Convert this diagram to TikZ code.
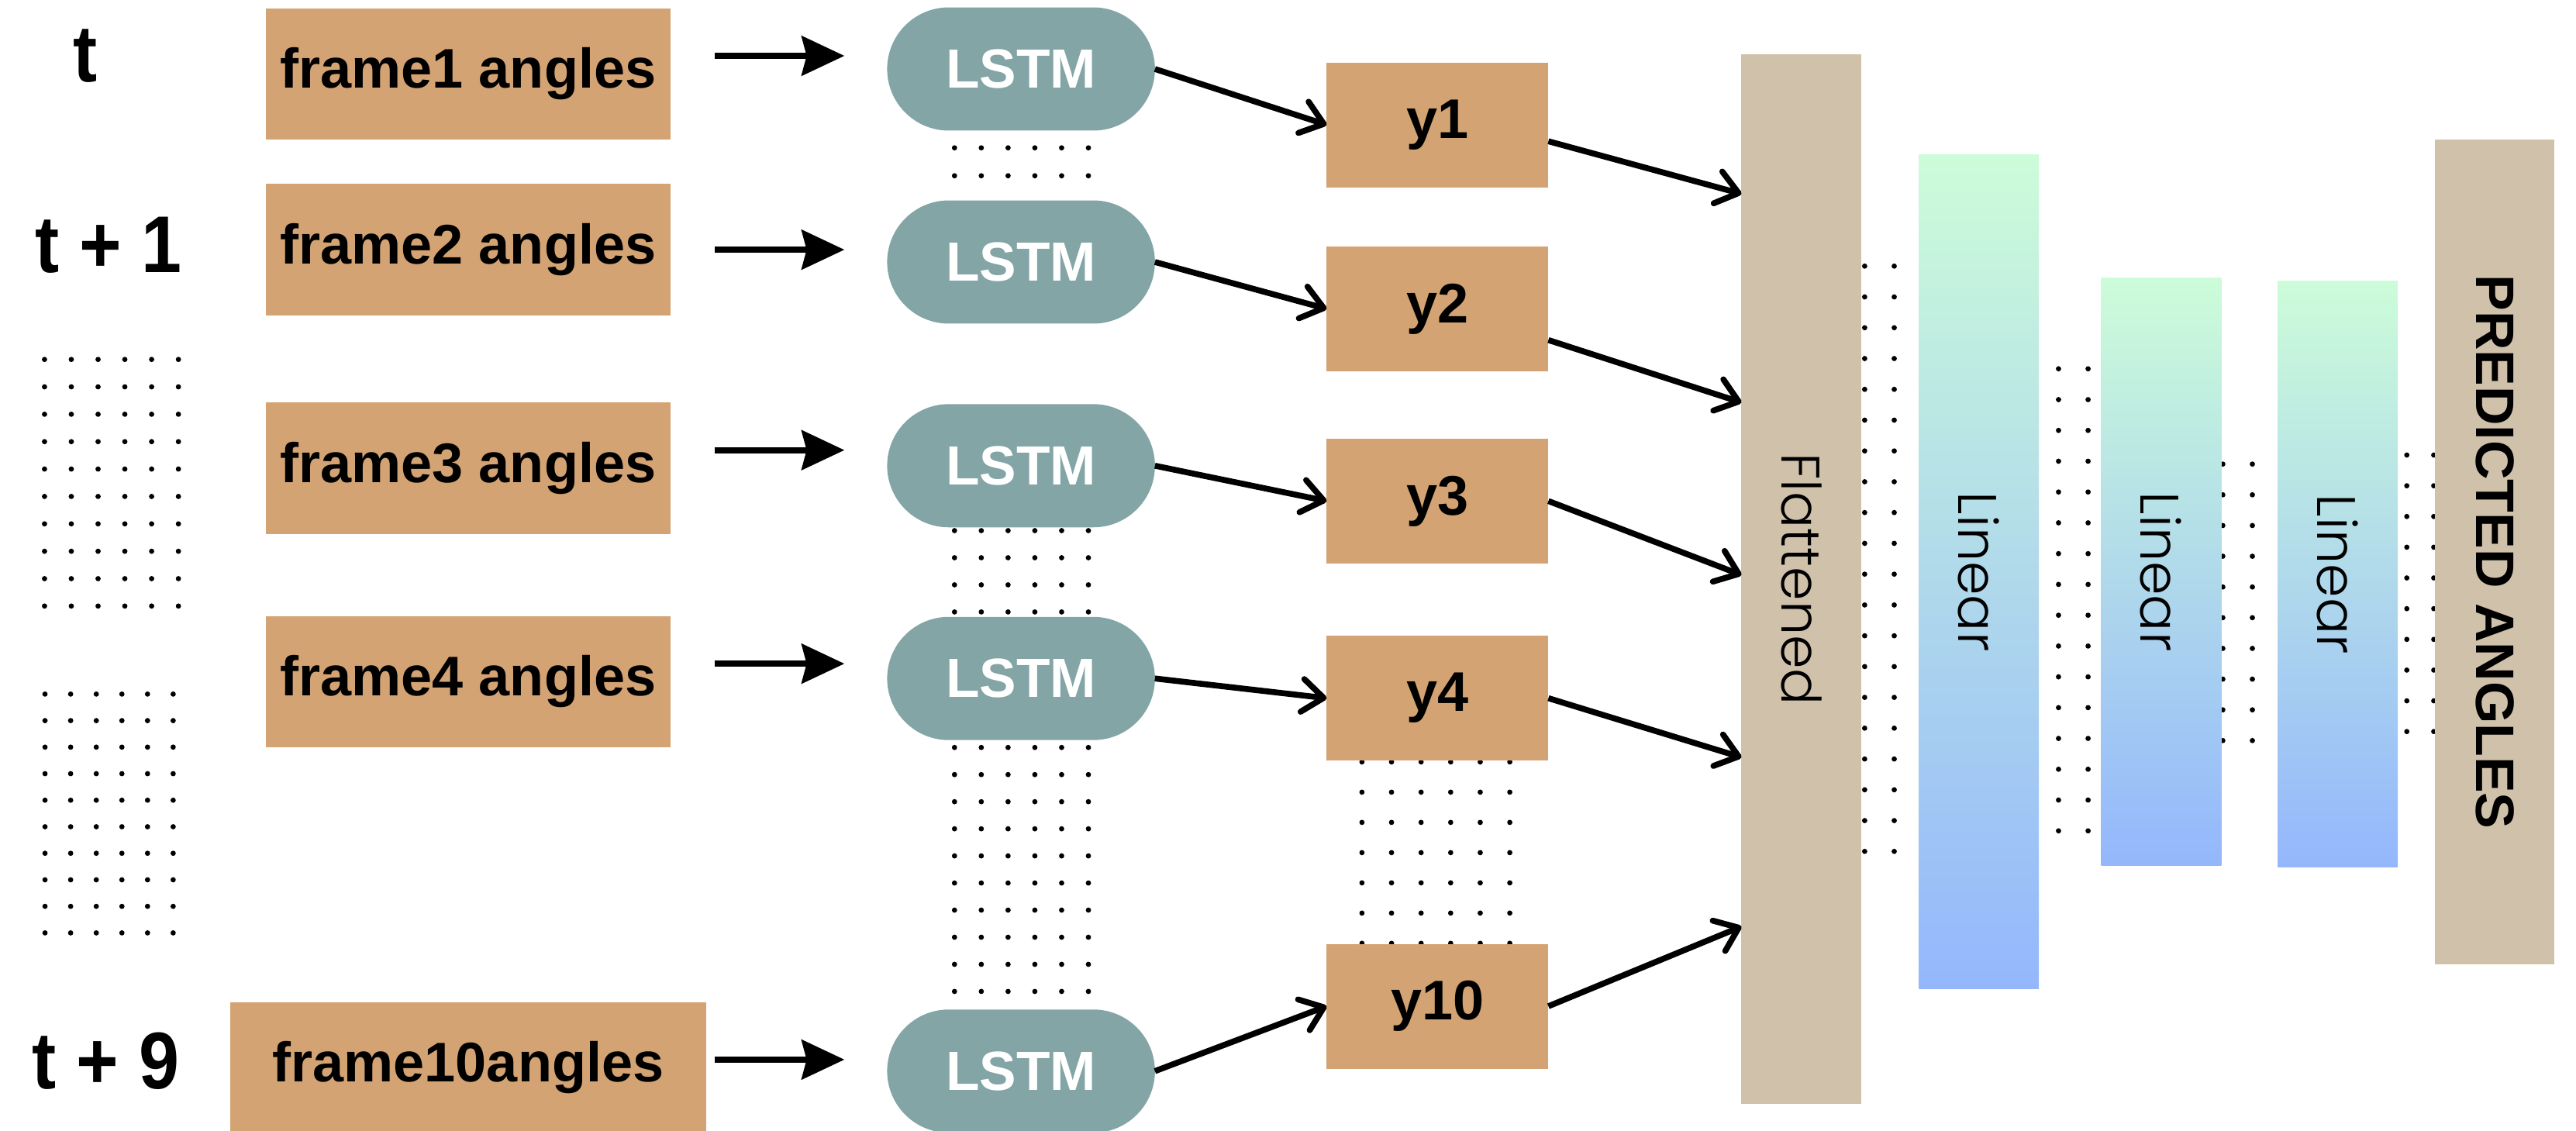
\documentclass[tikz,border=0pt]{standalone}
\usepackage{fontspec}
\usepackage{graphicx}
\setmainfont{Liberation Sans}
\newfontfamily\thinfont{Poppins Light}
\newfontfamily\stepfont{Liberation Sans}[FakeStretch=0.9]
\usetikzlibrary{arrows.meta,calc}

\definecolor{framefill}{HTML}{D4A373}
\definecolor{lstmfill}{HTML}{84A5A6}
\definecolor{layerfill}{HTML}{D0C1AA}
\definecolor{lintop}{HTML}{CCFCD9}
\definecolor{linbot}{HTML}{94B7FC}

% grid of small dots: x0, dx, columns, y0, dy, rows
\newcommand\dotgrid[6]{%
  \foreach \i in {1,...,#3}{%
    \foreach \j in {1,...,#6}{%
      \fill ({#1+(\i-1)*#2},{#4+(\j-1)*#5}) circle[radius=0.8pt];
    }%
  }%
}

\begin{document}
\begin{tikzpicture}[x=0.5pt,y=-0.5pt,
  boxbase/.style={inner sep=0pt, outer sep=0pt, text=black},
  inbox/.style={boxbase, fill=framefill, minimum width=123pt, minimum height=40pt,
    font=\bfseries\fontsize{17}{20}\selectfont},
  lstm/.style={boxbase, fill=lstmfill, rounded corners=18.75pt, minimum width=81.5pt,
    minimum height=37.5pt, text=white, font=\bfseries\fontsize{16.8}{20}\selectfont},
  outbox/.style={boxbase, fill=framefill, minimum width=67.5pt, minimum height=38pt,
    font=\bfseries\fontsize{17}{20}\selectfont},
  tlabel/.style={anchor=base, inner sep=0pt, font=\stepfont\bfseries\fontsize{24.5}{28}\selectfont},
  beige/.style={boxbase, fill=layerfill, minimum width=36.5pt},
  linear/.style={boxbase, top color=lintop, bottom color=linbot, minimum width=36.5pt,
    font=\thinfont\fontsize{16.5}{19}\selectfont},
  feed/.style={line width=1.9pt, -{Stealth[length=13pt,width=12pt,inset=1.5pt]}},
  link/.style={line width=1.8pt, -{Straight Barb[length=6.5pt,width=10pt,round]}},
]
\useasboundingbox (0,0) rectangle (1568,688);

% dotted fillers
\dotgrid{27.1}{16.3}{6}{218.8}{16.68}{10}
\dotgrid{27.4}{15.6}{6}{422.5}{16.15}{10}
\dotgrid{581}{16.3}{6}{90}{17}{2}
\dotgrid{581}{16.3}{6}{323}{16.5}{18}
\dotgrid{829}{18}{6}{463.8}{18.4}{7}
\dotgrid{1135}{18}{2}{162}{18.75}{20}
\dotgrid{1253}{18}{2}{224.5}{18.75}{16}
\dotgrid{1353}{18}{2}{282.5}{18.7}{10}
\dotgrid{1465}{16.4}{2}{277}{18.7}{10}

% time labels
\node[tlabel] (t0) at (52,49.6) {t};
\node[tlabel] (t1) at (66,166) {t + 1};
\node[tlabel] (t9) at (64.5,662.5) {t + 9};

% input frames
\node[inbox] (f1) at (285,45) {frame1 angles};
\node[inbox] (f2) at (285,152) {frame2 angles};
\node[inbox] (f3) at (285,285) {frame3 angles};
\node[inbox] (f4) at (285,415) {frame4 angles};
\node[inbox, minimum width=145pt] (f10) at (285,650) {frame10angles};

% recurrent cells
\node[lstm] (l1) at (621.5,42) {LSTM};
\node[lstm] (l2) at (621.5,159.5) {LSTM};
\node[lstm] (l3) at (621.5,283.5) {LSTM};
\node[lstm] (l4) at (621.5,413) {LSTM};
\node[lstm] (l10) at (621.5,652) {LSTM};

% per-step outputs
\node[outbox] (y1) at (875,76) {y1};
\node[outbox] (y2) at (875,188) {y2};
\node[outbox] (y3) at (875,305) {y3};
\node[outbox] (y4) at (875,425) {y4};
\node[outbox] (y10) at (875,612.5) {y10};

% dense head
\node[beige, minimum height=319.5pt, font=\thinfont\fontsize{16.5}{19}\selectfont]
  (fl) at (1096.5,352.5) {\rotatebox{-90}{Flattened}};
\node[linear, minimum height=254pt] (lin1) at (1204.5,348) {\rotatebox{-90}{Linear}};
\node[linear, minimum height=179pt] (lin2) at (1315.5,348) {\rotatebox{-90}{Linear}};
\node[linear, minimum height=178.5pt] (lin3) at (1423,349.5) {\rotatebox{-90}{Linear}};
\node[beige, minimum height=251pt, font=\bfseries\fontsize{16.5}{19}\selectfont]
  (pred) at (1518.5,336) {\rotatebox{-90}{PREDICTED ANGLES}};

% frames into cells
\draw[feed] ($(f1.east)+(27,-11)$) -- ($(l1.west)+(-26,-8)$);
\draw[feed] ($(f2.east)+(27,0)$) -- ($(l2.west)+(-26,-7.5)$);
\draw[feed] ($(f3.east)+(27,-11)$) -- ($(l3.west)+(-26,-9.5)$);
\draw[feed] ($(f4.east)+(27,-11)$) -- ($(l4.west)+(-26,-9)$);
\draw[feed] ($(f10.east)+(5,-5)$) -- ($(l10.west)+(-26,-7)$);

% cells into outputs
\draw[link] (l1.east) -- (y1.west);
\draw[link] (l2.east) -- (y2.west);
\draw[link] (l3.east) -- (y3.west);
\draw[link] (l4.east) -- (y4.west);
\draw[link] (l10.east) -- (y10.west);

% outputs into the flattened layer
\draw[link] ($(y1.east)+(0,10)$) -- ($(fl.north west)+(0,85)$);
\draw[link] ($(y2.east)+(0,19)$) -- ($(fl.north west)+(0,212)$);
\draw[link] (y3.east) -- ($(fl.north west)+(0,317)$);
\draw[link] (y4.east) -- ($(fl.north west)+(0,428)$);
\draw[link] (y10.east) -- ($(fl.north west)+(0,531)$);
\end{tikzpicture}
\end{document}
